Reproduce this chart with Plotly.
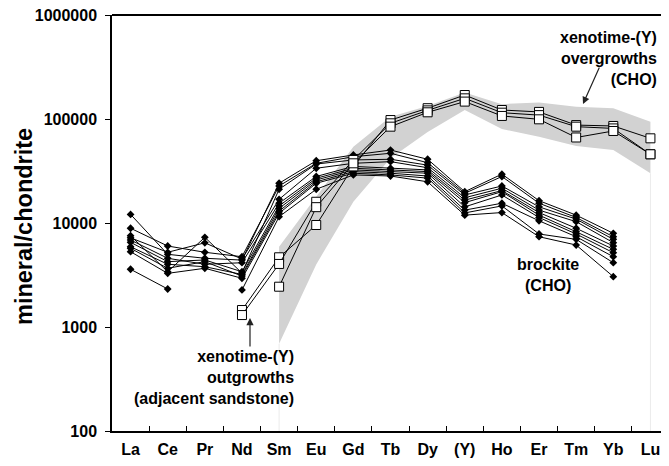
import plotly.graph_objects as go

elements = ["La", "Ce", "Pr", "Nd", "Sm", "Eu", "Gd", "Tb", "Dy", "(Y)", "Ho", "Er", "Tm", "Yb", "Lu"]

# brockite (CHO) analyses, La..Yb (no Lu)
brockite_1 = [12100, 5000, 4580, 4400, 24100, 39700, 45100, 50300, 41000, 20000, 29500, 16400, 11900, 7960, None]
brockite_2 = [8900, 6010, 5230, 4740, 22700, 37500, 43400, 46800, 38000, 19300, 28000, 15500, 11300, 7380, None]
brockite_3 = [7550, 3400, 7280, 3300, 21100, 36900, 40400, 41000, 36000, 18600, 22700, 14300, 10900, 6960, None]
brockite_4 = [7200, 5230, 6450, 4500, 16900, 33600, 37500, 38900, 34000, 17500, 21600, 13300, 10300, 6470, None]
brockite_5 = [6870, 4580, 4010, 4150, 15500, 28000, 35000, 33600, 32400, 16600, 20500, 12600, 8900, 6010, None]
brockite_6 = [6520, 4250, 4410, 3400, 14600, 26900, 33600, 32400, 31200, 15700, 20000, 11900, 8240, 5580, None]
brockite_7 = [5910, 4010, 3800, 3200, 13800, 25900, 32400, 31200, 30100, 14300, 18600, 11300, 7840, 5180, None]
brockite_8 = [5710, 3670, 4250, 3090, 13000, 24900, 31200, 30100, 28300, 13300, 15500, 10500, 7380, 4740, None]
brockite_9 = [5300, 3280, 3670, 2940, 12400, 24100, 30100, 29000, 27000, 12500, 14600, 7840, 6960, 4150, None]
brockite_10 = [3590, 2320, None, 2270, 11500, 21100, 29000, 28300, 24900, 11900, 12600, 7380, 6140, 3050, None]
brockite_series = [brockite_1, brockite_2, brockite_3, brockite_4, brockite_5,
                   brockite_6, brockite_7, brockite_8, brockite_9, brockite_10]

# xenotime-(Y) analyses (open squares)
xenotime_1 = [None, None, None, 1456, 4680, 9570, 35000, 97700, 127000, 170000, 122000, 117000, 87400, 85700, 65200]
xenotime_2 = [None, None, None, 1303, 4040, 16000, 40400, 90900, 121000, 158000, 115000, 109000, 84400, 81200, 45800]
xenotime_3 = [None, None, None, None, 2440, 14200, 37500, 84400, 116000, 147000, 107000, 99300, 66400, 76700, 45800]
xenotime_series = [xenotime_1, xenotime_2, xenotime_3]

# grey field of xenotime-(Y) overgrowths, Sm..Lu
band_elements = elements[4:]
band_upper = [5900, 18000, 54000, 105000, 133000, 180000, 139000, 144000, 131000, 127000, 94000]
band_lower = [690, 4000, 16000, 42000, 75000, 122000, 80000, 67600, 55000, 50300, 30100]

axis_min = 100
y_ticks = [100, 1000, 10000, 100000, 1000000]
y_tick_labels = ["100", "1000", "10000", "100000", "1000000"]

# page body has an 8px margin; figure is sized so the plot lands where wanted
OFF = 8
W, H = 669 - OFF, 466 - OFF
PLOT_L, PLOT_R, PLOT_T, PLOT_B = 112, 669, 15, 431   # screen pixels
L, R, T = PLOT_L - OFF, (OFF + W) - PLOT_R, PLOT_T - OFF
B = (OFF + H) - PLOT_B
PW, PH = PLOT_R - PLOT_L, PLOT_B - PLOT_T


def px(x):
    return (x - PLOT_L) / PW


def py(y):
    return (PLOT_B - y) / PH


FONT = "Liberation Sans, Arial, sans-serif"

fig = go.Figure()

fig.add_trace(go.Scatter(
    x=band_elements + band_elements[::-1],
    y=band_upper + band_lower[::-1],
    fill="toself", fillcolor="#d2d2d2", mode="lines",
    line=dict(width=0, color="#d2d2d2"), hoverinfo="skip", showlegend=False))

# faint edges of the grey field down to the axis
for i in (0, len(band_elements) - 1):
    fig.add_trace(go.Scatter(
        x=[band_elements[i], band_elements[i]], y=[band_lower[i], axis_min],
        mode="lines", line=dict(color="#ebebeb", width=1),
        hoverinfo="skip", showlegend=False))

for s in brockite_series:
    fig.add_trace(go.Scatter(
        x=elements, y=s, mode="lines+markers",
        line=dict(color="black", width=1),
        marker=dict(symbol="diamond", size=6, color="black"),
        connectgaps=False, showlegend=False))

for s in xenotime_series:
    fig.add_trace(go.Scatter(
        x=elements, y=s, mode="lines+markers",
        line=dict(color="black", width=1),
        marker=dict(symbol="square", size=9, color="white",
                    line=dict(color="black", width=1)),
        connectgaps=False, showlegend=False))

fig.update_xaxes(
    type="category", categoryorder="array", categoryarray=elements,
    range=[-0.5, len(elements) - 0.5],
    showline=True, linecolor="black", linewidth=1.5,
    ticks="inside", tickson="boundaries", ticklen=5, tickcolor="black", tickwidth=1,
    tickfont=dict(family=FONT, size=16, color="black", weight="bold"),
    ticklabelstandoff=3,
    showgrid=False, zeroline=False)

fig.update_yaxes(
    type="log", range=[2, 6],
    tickmode="array", tickvals=y_ticks, ticktext=y_tick_labels,
    showline=True, linecolor="black", linewidth=1.5,
    ticks="outside", ticklen=5, tickcolor="black", tickwidth=1,
    tickfont=dict(family=FONT, size=16, color="black", weight="bold"),
    ticklabelstandoff=5, ticklabeloverflow="allow",
    showgrid=False, zeroline=False)

ann_font = dict(family=FONT, size=16, color="black", weight="bold")

annotations = [
    dict(text="mineral/chondrite", textangle=-90, x=px(24), y=py(227),
         xanchor="center", yanchor="middle",
         xref="paper", yref="paper", showarrow=False,
         font=dict(family=FONT, size=23.5, color="black", weight="bold")),
    dict(text="xenotime-(Y)<br>overgrowths<br>(CHO)", align="right",
         x=px(659), y=py(59), xanchor="right", yanchor="middle",
         xref="paper", yref="paper", showarrow=False, font=ann_font),
    dict(text="brockite<br>(CHO)", align="center",
         x=px(548), y=py(275), xanchor="center", yanchor="middle",
         xref="paper", yref="paper", showarrow=False, font=ann_font),
    dict(text="xenotime-(Y)<br>outgrowths<br>(adjacent sandstone)", align="right",
         x=px(296), y=py(377), xanchor="right", yanchor="middle",
         xref="paper", yref="paper", showarrow=False, font=ann_font),
    dict(text="", x=px(583), y=py(104), xref="paper", yref="paper",
         ax=17, ay=-38, axref="pixel", ayref="pixel",
         showarrow=True, arrowhead=2, arrowsize=1.2, arrowwidth=1.2, arrowcolor="#222"),
    dict(text="", x=px(250), y=py(318), xref="paper", yref="paper",
         ax=0, ay=30, axref="pixel", ayref="pixel",
         showarrow=True, arrowhead=2, arrowsize=1.2, arrowwidth=1.2, arrowcolor="#222"),
]

shapes = [
    dict(type="line", xref="paper", yref="paper", x0=0, x1=1, y0=1, y1=1,
         line=dict(color="black", width=2)),
    dict(type="line", xref="paper", yref="paper", x0=px(667), x1=px(667), y0=0, y1=1,
         line=dict(color="#e4e4e4", width=1)),
]

fig.update_layout(
    width=W, height=H,
    margin=dict(l=L, r=R, t=T, b=B, pad=0),
    paper_bgcolor="white", plot_bgcolor="white",
    showlegend=False, annotations=annotations, shapes=shapes,
    font=dict(family=FONT, color="black"))

fig.write_html("out.html")
